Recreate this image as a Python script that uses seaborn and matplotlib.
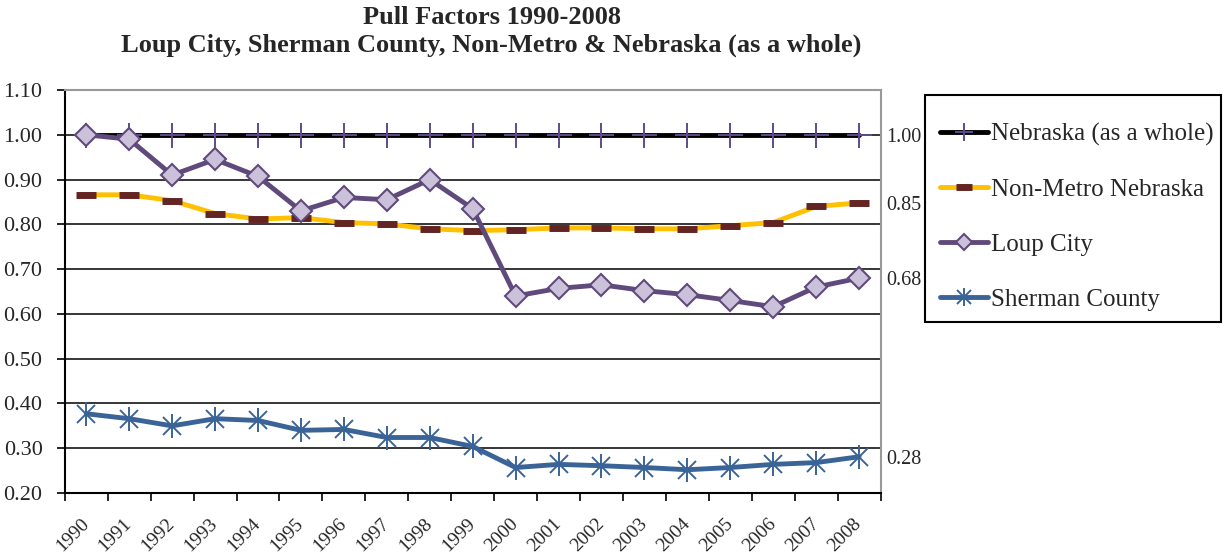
import matplotlib
matplotlib.use('Agg')
import matplotlib.pyplot as plt
from matplotlib.legend_handler import HandlerTuple
from matplotlib.patches import Rectangle
import numpy as np
import pandas as pd
import seaborn as sns

years = [str(y) for y in range(1990, 2009)]
nebraska = [1.00] * 19
non_metro = [0.866, 0.866, 0.853, 0.824, 0.812, 0.815, 0.804, 0.801, 0.790, 0.786,
             0.788, 0.792, 0.792, 0.790, 0.790, 0.797, 0.804, 0.840, 0.848]
loup_city = [1.00, 0.99, 0.91, 0.945, 0.907, 0.830, 0.860, 0.855, 0.900, 0.835,
             0.640, 0.657, 0.665, 0.652, 0.643, 0.630, 0.616, 0.660, 0.680]
sherman = [0.377, 0.366, 0.350, 0.366, 0.362, 0.340, 0.342, 0.324, 0.324, 0.304,
           0.257, 0.264, 0.261, 0.257, 0.252, 0.257, 0.264, 0.268, 0.281]
end_labels = ['1.00', '0.85', '0.68', '0.28']

sns.set_style('white')
plt.rcParams['font.family'] = ['Liberation Serif', 'DejaVu Serif']

df = pd.DataFrame({'idx': np.arange(len(years)), 'year': years,
                   'Nebraska (as a whole)': nebraska,
                   'Non-Metro Nebraska': non_metro,
                   'Loup City': loup_city,
                   'Sherman County': sherman})

W, H = 1223, 559
fig = plt.figure(figsize=(W / 100, H / 100), dpi=100)
ax = fig.add_axes([0.053, 0.118, 0.667, 0.721])

# gridlines
for v in np.arange(0.3, 1.05, 0.1):
    ax.axhline(v, color='black', lw=1.1, zorder=1)

lw = 3.5
sns.lineplot(data=df, x='idx', y='Nebraska (as a whole)', ax=ax, color='black', lw=lw,
             marker='+', ms=18, mew=1.4, mec='#5f4b8b', label='Nebraska (as a whole)', zorder=3)
sns.lineplot(data=df, x='idx', y='Non-Metro Nebraska', ax=ax, color='#ffc000', lw=lw,
             marker='_', ms=15, mew=5, mec='#632523', label='Non-Metro Nebraska', zorder=4)
sns.lineplot(data=df, x='idx', y='Loup City', ax=ax, color='#604a7b', lw=lw,
             marker='D', ms=11, mew=1.5, mfc='#ccc1da', mec='#604a7b', label='Loup City', zorder=5)
sns.lineplot(data=df, x='idx', y='Sherman County', ax=ax, color='#3a6497', lw=lw,
             marker='x', ms=13, mew=1.4, mec='#3a6497', label='Sherman County', zorder=4)
bar = ax.plot(df['idx'], df['Sherman County'], ls='', marker='|', ms=17, mew=1.4,
              color='#3a6497', zorder=4)[0]

ax.set_xlim(-0.5, len(years) - 0.5)
ax.set_ylim(0.2, 1.1)
ax.set_yticks(np.arange(0.2, 1.15, 0.1))
ax.set_yticklabels(['%.2f' % v for v in np.arange(0.2, 1.15, 0.1)], fontsize=16)
ax.set_xticks(np.arange(-0.5, len(years), 1.0))
ax.set_xticklabels([])
ax.set_xticks(np.arange(len(years)), minor=True)
ax.set_xticklabels(years, minor=True, rotation=45, ha='right', va='center',
                   rotation_mode='anchor', fontsize=14)
ax.tick_params(axis='x', which='minor', length=0, pad=20)
ax.tick_params(axis='both', which='major', direction='out', length=6, width=1.2, color='black',
               bottom=True, left=True)
ax.tick_params(axis='y', pad=10)
ax.set_xlabel('')
ax.set_ylabel('')
for side in ['left', 'bottom']:
    ax.spines[side].set_color('black')
    ax.spines[side].set_linewidth(1.5)
for side in ['top', 'right']:
    ax.spines[side].set_color('#999999')
    ax.spines[side].set_linewidth(1.5)

# value labels at right edge
for vals, lab in zip([nebraska, non_metro, loup_city, sherman], end_labels):
    ax.annotate(lab, xy=(len(years) - 0.5, vals[-1]), xytext=(4, -2), textcoords='offset points',
                va='center', ha='left', fontsize=14.5, annotation_clip=False)

handles, labels = ax.get_legend_handles_labels()
handles[3] = (handles[3], bar)
leg = ax.legend(handles, labels, loc='upper left', bbox_to_anchor=(940 / W, 1 - 123 / H),
                bbox_transform=fig.transFigure, borderaxespad=0, borderpad=0,
                fontsize=18, frameon=False, labelspacing=1.3,
                handlelength=1.9, handletextpad=0.15, markerscale=0.75,
                handler_map={tuple: HandlerTuple(ndivide=1)})
fig.patches.append(Rectangle((925 / W, 1 - 322 / H), 296 / W, 227 / H, transform=fig.transFigure,
                             fill=False, edgecolor='black', lw=1.5))

fig.text(0.402, 0.99, 'Pull Factors 1990-2008\nLoup City, Sherman County, Non-Metro & Nebraska (as a whole)',
         ha='center', va='top', fontsize=19, fontweight='bold', linespacing=1.25)

fig.savefig('out.png', dpi=100)
